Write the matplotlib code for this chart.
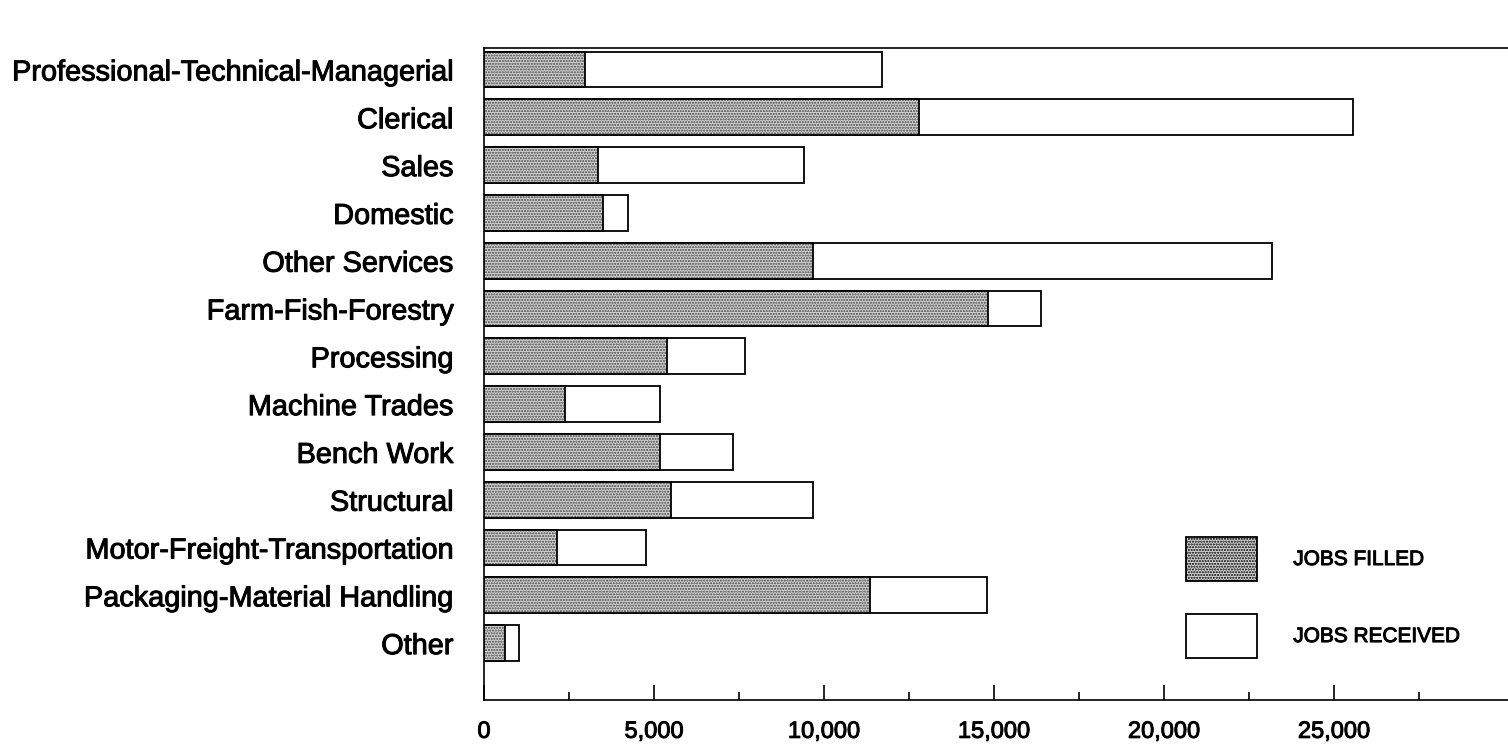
import numpy as np
import matplotlib.pyplot as plt
import matplotlib.patheffects as pe
from matplotlib.patches import Patch

categories = ["Professional-Technical-Managerial", "Clerical", "Sales", "Domestic",
              "Other Services", "Farm-Fish-Forestry", "Processing", "Machine Trades",
              "Bench Work", "Structural", "Motor-Freight-Transportation",
              "Packaging-Material Handling", "Other"]
jobs_filled = [2960, 12780, 3340, 3510, 9670, 14830, 5390, 2380, 5180, 5500, 2160, 11350, 620]
jobs_received = [11700, 25570, 9420, 4250, 23180, 16380, 7690, 5180, 7330, 9670, 4760, 14790, 1040]
xticks = [0, 5000, 10000, 15000, 20000, 25000]
xtick_labels = ["0", "5,000", "10,000", "15,000", "20,000", "25,000"]

plt.rcParams['font.family'] = ['Liberation Sans', 'DejaVu Sans']
plt.rcParams['hatch.linewidth'] = 1.0
thick = [pe.withStroke(linewidth=0.7, foreground="black")]

fig = plt.figure(figsize=(15.08, 7.46), dpi=100)
ax = fig.add_axes([484/1508, 1 - 700/746, 1 - 484/1508, 652/746])

y = np.arange(len(categories))
h = 0.75
# received = full bar, filled overlaps from zero
ax.barh(y, jobs_received, height=h, color="white", edgecolor="black", linewidth=1.3, zorder=2)
ax.barh(y, jobs_filled, height=h, color="#d0d0d0", edgecolor="#444444", hatch="......",
        linewidth=0, zorder=3)
ax.barh(y, jobs_filled, height=h, fill=False, edgecolor="black", linewidth=1.3, zorder=4)

ax.set_xlim(0, 30118)
ax.set_ylim(len(categories) - 1 + 1.19, -0.45)

ax.set_yticks(y)
ax.set_yticklabels(categories, fontsize=20.8, path_effects=thick)
ax.tick_params(axis="y", length=0, pad=22)

ax.set_xticks(xticks)
ax.set_xticklabels(xtick_labels, fontsize=17, path_effects=thick)
ax.set_xticks(np.arange(2500, 30000, 5000), minor=True)
ax.tick_params(axis="x", which="major", direction="in", length=11, width=1.2, pad=15)
ax.tick_params(axis="x", which="minor", direction="in", length=5.5, width=1.2)

for s in ["left", "bottom", "top"]:
    ax.spines[s].set_linewidth(1.2)
ax.spines["right"].set_visible(False)

handles = [Patch(facecolor="#d0d0d0", edgecolor="black", hatch="......", linewidth=1.3),
           Patch(facecolor="white", edgecolor="black", linewidth=1.3)]
leg = ax.legend(handles, ["JOBS FILLED", "JOBS RECEIVED"], loc="upper left",
                bbox_to_anchor=(1186/1508, 1 - 537/746), bbox_transform=fig.transFigure,
                frameon=False, fontsize=15, handlelength=3.4,
                handleheight=2.85, labelspacing=1.6, handletextpad=1.75,
                borderpad=0, borderaxespad=0)
for t in leg.get_texts():
    t.set_path_effects(thick)

fig.savefig("out.png", dpi=100)
